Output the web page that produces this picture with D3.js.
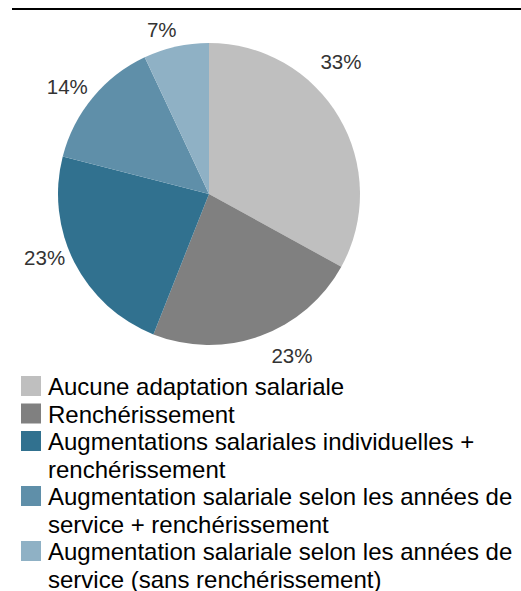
<!DOCTYPE html>
<html>
<head>
<meta charset="utf-8">
<script src="https://cdn.jsdelivr.net/npm/d3@7/dist/d3.min.js"></script>
<style>
  html, body { margin: 0; padding: 0; background: #fff; }
  svg { display: block; }
</style>
</head>
<body>
<svg id="chart" width="521" height="591"></svg>
<script>
// Répartition des adaptations salariales (en %)
const categories = [
  "Aucune adaptation salariale",
  "Renchérissement",
  "Augmentations salariales individuelles + renchérissement",
  "Augmentation salariale selon les années de service + renchérissement",
  "Augmentation salariale selon les années de service (sans renchérissement)"
];
const values = [33, 23, 23, 14, 7];
const valueLabels = ["33%", "23%", "23%", "14%", "7%"];

// Legend text as wrapped lines
const legendLines = [
  ["Aucune adaptation salariale"],
  ["Renchérissement"],
  ["Augmentations salariales individuelles +", "renchérissement"],
  ["Augmentation salariale selon les années de", "service + renchérissement"],
  ["Augmentation salariale selon les années de", "service (sans renchérissement)"]
];

const colors = ["#bfbfbf", "#808080", "#31718f", "#5f8fa9", "#8fb1c5"];

const svg = d3.select("#chart");
const font = "Liberation Sans, Arial, Helvetica, sans-serif";

// Top rule
svg.append("line")
  .attr("x1", 12).attr("x2", 521)
  .attr("y1", 9).attr("y2", 9)
  .attr("stroke", "#000").attr("stroke-width", 2);

// Pie
const cx = 209, cy = 194, R = 151;
const pie = d3.pie().sort(null).value(d => d);
const arcs = pie(values);
const arc = d3.arc().innerRadius(0).outerRadius(R);
const labelArc = d3.arc().innerRadius(180).outerRadius(180);

const g = svg.append("g").attr("transform", `translate(${cx},${cy})`);
g.selectAll("path.slice")
  .data(arcs)
  .join("path")
  .attr("class", "slice")
  .attr("d", arc)
  .attr("fill", (d, i) => colors[i]);

// Label placement offsets from the outer label ring
const labelNudge = [[-23, -41], [22, -8], [-4, -18], [-3, 7], [-8, 11]];
g.selectAll("text.pct")
  .data(arcs)
  .join("text")
  .attr("class", "pct")
  .attr("x", (d, i) => labelArc.centroid(d)[0] + labelNudge[i][0])
  .attr("y", (d, i) => labelArc.centroid(d)[1] + labelNudge[i][1])
  .attr("text-anchor", "middle")
  .attr("dominant-baseline", "central")
  .attr("font-family", font)
  .attr("font-size", 20.5)
  .attr("fill", "#333")
  .text((d, i) => valueLabels[i]);

// Legend
const lineH = 27.5, firstBaseline = 395;
const legend = svg.append("g");
let lineIdx = 0;
categories.forEach((c, i) => {
  const base = firstBaseline + lineIdx * lineH;
  legend.append("rect")
    .attr("x", 21).attr("y", base - 19)
    .attr("width", 20).attr("height", 20)
    .attr("fill", colors[i]);
  const t = legend.append("text")
    .attr("font-family", font)
    .attr("font-size", 24)
    .attr("fill", "#000");
  legendLines[i].forEach((ln, j) => {
    t.append("tspan")
      .attr("x", 48)
      .attr("y", base + j * lineH)
      .text(ln);
  });
  lineIdx += legendLines[i].length;
});
</script>
</body>
</html>
